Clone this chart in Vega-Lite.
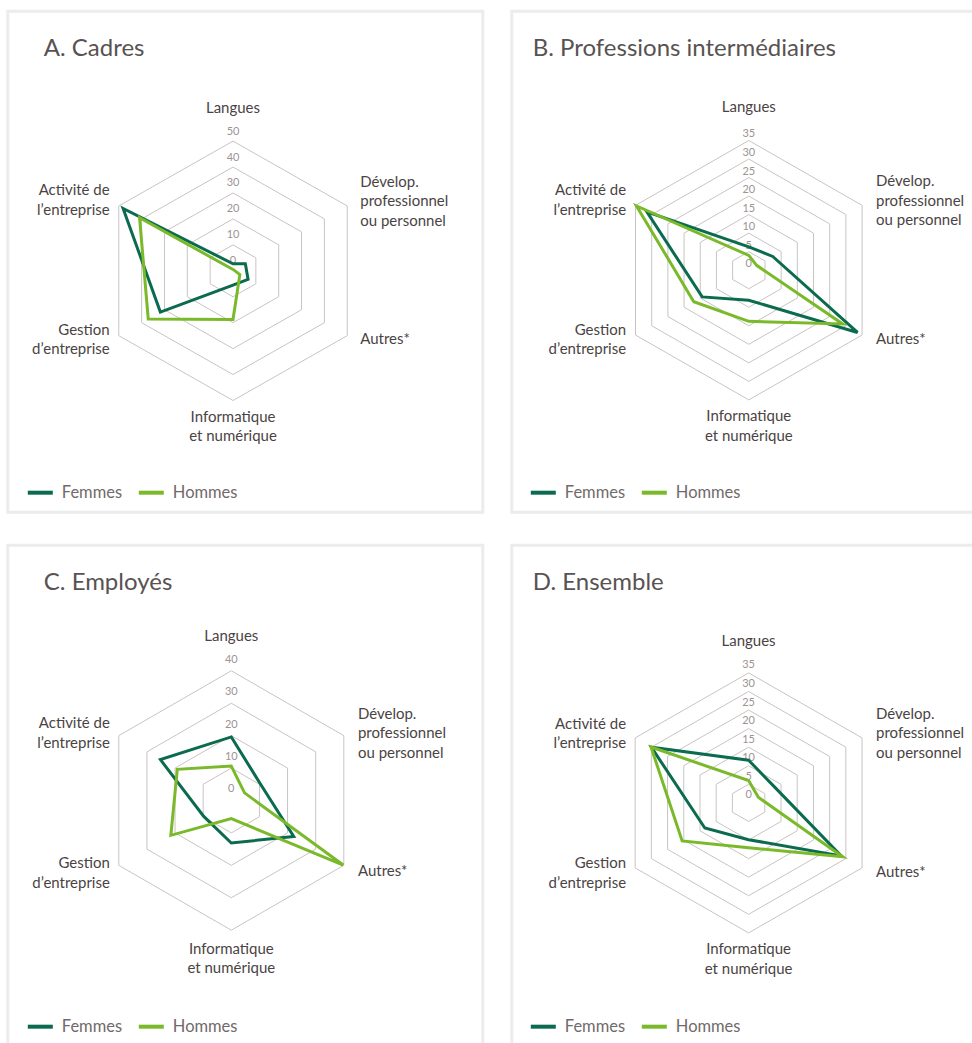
{
  "$schema": "https://vega.github.io/schema/vega-lite/v6.json",
  "padding": {"left": 5.8, "top": 9.2, "right": 0, "bottom": 0},
  "config": {
    "font": "Lato",
    "view": {"stroke": "#ececec", "strokeWidth": 3},
    "title": {"font": "Lato", "fontSize": 24, "fontWeight": "normal", "color": "#595252", "anchor": "start", "offset": -50, "baseline": "alphabetic"},
    "legend": {"labelFont": "Lato", "labelFontSize": 16.5, "labelColor": "#716a6a", "symbolType": "stroke", "symbolSize": 625, "symbolStrokeWidth": 4, "labelOffset": 7, "columnPadding": 8, "padding": 0}
  },
  "datasets": {
    "formation": [
      {"panel": "A", "sexe": "Femmes", "axe": "Langues", "valeur": 2.7},
      {"panel": "A", "sexe": "Femmes", "axe": "Dévelop. professionnel ou personnel", "valeur": 5.4},
      {"panel": "A", "sexe": "Femmes", "axe": "Autres*", "valeur": 6.6},
      {"panel": "A", "sexe": "Femmes", "axe": "Informatique et numérique", "valeur": 5.5},
      {"panel": "A", "sexe": "Femmes", "axe": "Gestion d’entreprise", "valeur": 31.8},
      {"panel": "A", "sexe": "Femmes", "axe": "Activité de l’entreprise", "valeur": 48.1},
      {"panel": "A", "sexe": "Hommes", "axe": "Langues", "valeur": 0.5},
      {"panel": "A", "sexe": "Hommes", "axe": "Dévelop. professionnel ou personnel", "valeur": 0.5},
      {"panel": "A", "sexe": "Hommes", "axe": "Autres*", "valeur": 3.0},
      {"panel": "A", "sexe": "Hommes", "axe": "Informatique et numérique", "valeur": 18.8},
      {"panel": "A", "sexe": "Hommes", "axe": "Gestion d’entreprise", "valeur": 37.1},
      {"panel": "A", "sexe": "Hommes", "axe": "Activité de l’entreprise", "valeur": 40.9},
      {"panel": "B", "sexe": "Femmes", "axe": "Langues", "valeur": 6.3},
      {"panel": "B", "sexe": "Femmes", "axe": "Dévelop. professionnel ou personnel", "valeur": 7.4},
      {"panel": "B", "sexe": "Femmes", "axe": "Autres*", "valeur": 33.6},
      {"panel": "B", "sexe": "Femmes", "axe": "Informatique et numérique", "valeur": 8.1},
      {"panel": "B", "sexe": "Femmes", "axe": "Gestion d’entreprise", "valeur": 14.4},
      {"panel": "B", "sexe": "Femmes", "axe": "Activité de l’entreprise", "valeur": 31.5},
      {"panel": "B", "sexe": "Hommes", "axe": "Langues", "valeur": 4.0},
      {"panel": "B", "sexe": "Hommes", "axe": "Dévelop. professionnel ou personnel", "valeur": 2.5},
      {"panel": "B", "sexe": "Hommes", "axe": "Autres*", "valeur": 29.0},
      {"panel": "B", "sexe": "Hommes", "axe": "Informatique et numérique", "valeur": 13.8},
      {"panel": "B", "sexe": "Hommes", "axe": "Gestion d’entreprise", "valeur": 17.0},
      {"panel": "B", "sexe": "Hommes", "axe": "Activité de l’entreprise", "valeur": 34.7},
      {"panel": "C", "sexe": "Femmes", "axe": "Langues", "valeur": 19.6},
      {"panel": "C", "sexe": "Femmes", "axe": "Dévelop. professionnel ou personnel", "valeur": 10.3},
      {"panel": "C", "sexe": "Femmes", "axe": "Autres*", "valeur": 22.2},
      {"panel": "C", "sexe": "Femmes", "axe": "Informatique et numérique", "valeur": 13.1},
      {"panel": "C", "sexe": "Femmes", "axe": "Gestion d’entreprise", "valeur": 9.8},
      {"panel": "C", "sexe": "Femmes", "axe": "Activité de l’entreprise", "valeur": 25.2},
      {"panel": "C", "sexe": "Hommes", "axe": "Langues", "valeur": 10.6},
      {"panel": "C", "sexe": "Hommes", "axe": "Dévelop. professionnel ou personnel", "valeur": 4.7},
      {"panel": "C", "sexe": "Hommes", "axe": "Autres*", "valeur": 39.8},
      {"panel": "C", "sexe": "Hommes", "axe": "Informatique et numérique", "valeur": 5.6},
      {"panel": "C", "sexe": "Hommes", "axe": "Gestion d’entreprise", "valeur": 21.5},
      {"panel": "C", "sexe": "Hommes", "axe": "Activité de l’entreprise", "valeur": 19.2},
      {"panel": "D", "sexe": "Femmes", "axe": "Langues", "valeur": 11.5},
      {"panel": "D", "sexe": "Femmes", "axe": "Dévelop. professionnel ou personnel", "valeur": 8.2},
      {"panel": "D", "sexe": "Femmes", "axe": "Autres*", "valeur": 28.6},
      {"panel": "D", "sexe": "Femmes", "axe": "Informatique et numérique", "valeur": 9.9},
      {"panel": "D", "sexe": "Femmes", "axe": "Gestion d’entreprise", "valeur": 13.5},
      {"panel": "D", "sexe": "Femmes", "axe": "Activité de l’entreprise", "valeur": 30.0},
      {"panel": "D", "sexe": "Hommes", "axe": "Langues", "valeur": 6.0},
      {"panel": "D", "sexe": "Hommes", "axe": "Dévelop. professionnel ou personnel", "valeur": 3.0},
      {"panel": "D", "sexe": "Hommes", "axe": "Autres*", "valeur": 29.0},
      {"panel": "D", "sexe": "Hommes", "axe": "Informatique et numérique", "valeur": 12.1},
      {"panel": "D", "sexe": "Hommes", "axe": "Gestion d’entreprise", "valeur": 20.5},
      {"panel": "D", "sexe": "Hommes", "axe": "Activité de l’entreprise", "valeur": 30.1}
    ],
    "axes": [
      {"axe": "Langues", "libelle": ["Langues"]},
      {"axe": "Dévelop. professionnel ou personnel", "libelle": ["Dévelop.", "professionnel", "ou personnel"]},
      {"axe": "Autres*", "libelle": ["Autres*"]},
      {"axe": "Informatique et numérique", "libelle": ["Informatique", "et numérique"]},
      {"axe": "Gestion d’entreprise", "libelle": ["Gestion", "d’entreprise"]},
      {"axe": "Activité de l’entreprise", "libelle": ["Activité de", "l’entreprise"]}
    ],
    "echelles": [
      {"panel": "A", "max": 50, "niveaux": [10, 20, 30, 40, 50], "graduations": [0, 10, 20, 30, 40, 50]},
      {"panel": "B", "max": 35, "niveaux": [5, 10, 15, 20, 25, 30, 35], "graduations": [0, 5, 10, 15, 20, 25, 30, 35]},
      {"panel": "C", "max": 40, "niveaux": [10, 20, 30, 40], "graduations": [0, 10, 20, 30, 40]},
      {"panel": "D", "max": 35, "niveaux": [5, 10, 15, 20, 25, 30, 35], "graduations": [0, 5, 10, 15, 20, 25, 30, 35]}
    ]
  },
  "columns": 2,
  "spacing": {"row": 29, "column": 25},
  "resolve": {"scale": {"color": "independent"}, "legend": {"color": "independent"}},
  "concat": [
    {
      "width": 475, "height": 501,
      "title": {"text": "A. Cadres", "dx": 36},
      "encoding": {
        "x": {"field": "x", "type": "quantitative", "scale": {"domain": [-1.7074, 1.8939], "nice": false, "zero": false}, "axis": null},
        "y": {"field": "y", "type": "quantitative", "scale": {"domain": [-1.8612, 2.0015], "nice": false, "zero": false}, "axis": null}
      },
      "layer": [
        {
          "data": {"name": "formation"},
          "transform": [
            {"filter": "datum.panel === 'A' && datum.sexe === 'Femmes'"},
            {"lookup": "panel", "from": {"data": {"name": "echelles"}, "key": "panel", "fields": ["max", "niveaux"]}},
            {"flatten": ["niveaux"], "as": ["niveau"]},
            {"calculate": "indexof(['Langues','Dévelop. professionnel ou personnel','Autres*','Informatique et numérique','Gestion d’entreprise','Activité de l’entreprise'], datum.axe) * PI / 3", "as": "angle"},
            {"calculate": "datum.niveau / datum.max * sin(datum.angle)", "as": "x"},
            {"calculate": "datum.niveau / datum.max * cos(datum.angle)", "as": "y"}
          ],
          "mark": {"type": "line", "interpolate": "linear-closed", "stroke": "#cac3c3", "strokeWidth": 1},
          "encoding": {"detail": {"field": "niveau", "type": "nominal"}, "order": {"field": "angle", "type": "quantitative"}}
        },
        {
          "data": {"name": "echelles"},
          "transform": [
            {"filter": "datum.panel === 'A'"},
            {"flatten": ["graduations"], "as": ["graduation"]},
            {"calculate": "0", "as": "x"},
            {"calculate": "datum.graduation / datum.max", "as": "y"}
          ],
          "mark": {"type": "text", "fontSize": 11, "fill": "#9d9393", "baseline": "middle", "dy": -9.5},
          "encoding": {"text": {"field": "graduation", "type": "quantitative"}}
        },
        {
          "data": {"name": "axes"},
          "transform": [
            {"calculate": "indexof(['Langues','Dévelop. professionnel ou personnel','Autres*','Informatique et numérique','Gestion d’entreprise','Activité de l’entreprise'], datum.axe)", "as": "rang"},
            {"filter": "datum.rang === 0 || datum.rang === 3"},
            {"calculate": "0", "as": "x"},
            {"calculate": "(datum.rang === 0 ? 1.255 : -1.2) + (length(datum.libelle) - 1) * 0.075", "as": "y"}
          ],
          "mark": {"type": "text", "align": "center", "baseline": "middle", "fontSize": 15, "lineHeight": 19.5, "fill": "#4a4343"},
          "encoding": {"text": {"field": "libelle", "type": "nominal"}}
        },
        {
          "data": {"name": "axes"},
          "transform": [
            {"calculate": "indexof(['Langues','Dévelop. professionnel ou personnel','Autres*','Informatique et numérique','Gestion d’entreprise','Activité de l’entreprise'], datum.axe)", "as": "rang"},
            {"filter": "datum.rang === 1 || datum.rang === 2"},
            {"calculate": "0.965", "as": "x"},
            {"calculate": "(datum.rang === 1 ? 0.535 : -0.525) + (length(datum.libelle) - 1) * 0.075", "as": "y"}
          ],
          "mark": {"type": "text", "align": "left", "baseline": "middle", "fontSize": 15, "lineHeight": 19.5, "fill": "#4a4343"},
          "encoding": {"text": {"field": "libelle", "type": "nominal"}}
        },
        {
          "data": {"name": "axes"},
          "transform": [
            {"calculate": "indexof(['Langues','Dévelop. professionnel ou personnel','Autres*','Informatique et numérique','Gestion d’entreprise','Activité de l’entreprise'], datum.axe)", "as": "rang"},
            {"filter": "datum.rang === 4 || datum.rang === 5"},
            {"calculate": "-0.935", "as": "x"},
            {"calculate": "(datum.rang === 5 ? 0.545 : -0.53) + (length(datum.libelle) - 1) * 0.075", "as": "y"}
          ],
          "mark": {"type": "text", "align": "right", "baseline": "middle", "fontSize": 15, "lineHeight": 19.5, "fill": "#4a4343"},
          "encoding": {"text": {"field": "libelle", "type": "nominal"}}
        },
        {
          "data": {"name": "formation"},
          "transform": [
            {"filter": "datum.panel === 'A'"},
            {"lookup": "panel", "from": {"data": {"name": "echelles"}, "key": "panel", "fields": ["max"]}},
            {"calculate": "indexof(['Langues','Dévelop. professionnel ou personnel','Autres*','Informatique et numérique','Gestion d’entreprise','Activité de l’entreprise'], datum.axe) * PI / 3", "as": "angle"},
            {"calculate": "datum.valeur / datum.max * sin(datum.angle)", "as": "x"},
            {"calculate": "datum.valeur / datum.max * cos(datum.angle)", "as": "y"}
          ],
          "mark": {"type": "line", "interpolate": "linear-closed", "strokeWidth": 3, "strokeJoin": "miter"},
          "encoding": {
            "color": {"field": "sexe", "type": "nominal", "scale": {"domain": ["Femmes", "Hommes"], "range": ["#0b6b4f", "#7ab929"]}, "legend": {"title": null, "orient": "none", "direction": "horizontal", "legendX": 18, "legendY": 467}},
            "order": {"field": "angle", "type": "quantitative"}
          }
        }
      ]
    },
    {
      "width": 475, "height": 501,
      "title": {"text": "B. Professions intermédiaires", "dx": 21},
      "encoding": {
        "x": {"field": "x", "type": "quantitative", "scale": {"domain": [-1.8119, 1.8196], "nice": false, "zero": false}, "axis": null},
        "y": {"field": "y", "type": "quantitative", "scale": {"domain": [-1.8659, 1.9969], "nice": false, "zero": false}, "axis": null}
      },
      "layer": [
        {
          "data": {"name": "formation"},
          "transform": [
            {"filter": "datum.panel === 'B' && datum.sexe === 'Femmes'"},
            {"lookup": "panel", "from": {"data": {"name": "echelles"}, "key": "panel", "fields": ["max", "niveaux"]}},
            {"flatten": ["niveaux"], "as": ["niveau"]},
            {"calculate": "indexof(['Langues','Dévelop. professionnel ou personnel','Autres*','Informatique et numérique','Gestion d’entreprise','Activité de l’entreprise'], datum.axe) * PI / 3", "as": "angle"},
            {"calculate": "datum.niveau / datum.max * sin(datum.angle)", "as": "x"},
            {"calculate": "datum.niveau / datum.max * cos(datum.angle)", "as": "y"}
          ],
          "mark": {"type": "line", "interpolate": "linear-closed", "stroke": "#cac3c3", "strokeWidth": 1},
          "encoding": {"detail": {"field": "niveau", "type": "nominal"}, "order": {"field": "angle", "type": "quantitative"}}
        },
        {
          "data": {"name": "echelles"},
          "transform": [
            {"filter": "datum.panel === 'B'"},
            {"flatten": ["graduations"], "as": ["graduation"]},
            {"calculate": "0", "as": "x"},
            {"calculate": "datum.graduation / datum.max", "as": "y"}
          ],
          "mark": {"type": "text", "fontSize": 11, "fill": "#9d9393", "baseline": "middle", "dy": -6},
          "encoding": {"text": {"field": "graduation", "type": "quantitative"}}
        },
        {
          "data": {"name": "axes"},
          "transform": [
            {"calculate": "indexof(['Langues','Dévelop. professionnel ou personnel','Autres*','Informatique et numérique','Gestion d’entreprise','Activité de l’entreprise'], datum.axe)", "as": "rang"},
            {"filter": "datum.rang === 0 || datum.rang === 3"},
            {"calculate": "0", "as": "x"},
            {"calculate": "(datum.rang === 0 ? 1.255 : -1.2) + (length(datum.libelle) - 1) * 0.075", "as": "y"}
          ],
          "mark": {"type": "text", "align": "center", "baseline": "middle", "fontSize": 15, "lineHeight": 19.5, "fill": "#4a4343"},
          "encoding": {"text": {"field": "libelle", "type": "nominal"}}
        },
        {
          "data": {"name": "axes"},
          "transform": [
            {"calculate": "indexof(['Langues','Dévelop. professionnel ou personnel','Autres*','Informatique et numérique','Gestion d’entreprise','Activité de l’entreprise'], datum.axe)", "as": "rang"},
            {"filter": "datum.rang === 1 || datum.rang === 2"},
            {"calculate": "0.973", "as": "x"},
            {"calculate": "(datum.rang === 1 ? 0.535 : -0.534) + (length(datum.libelle) - 1) * 0.075", "as": "y"}
          ],
          "mark": {"type": "text", "align": "left", "baseline": "middle", "fontSize": 15, "lineHeight": 19.5, "fill": "#4a4343"},
          "encoding": {"text": {"field": "libelle", "type": "nominal"}}
        },
        {
          "data": {"name": "axes"},
          "transform": [
            {"calculate": "indexof(['Langues','Dévelop. professionnel ou personnel','Autres*','Informatique et numérique','Gestion d’entreprise','Activité de l’entreprise'], datum.axe)", "as": "rang"},
            {"filter": "datum.rang === 4 || datum.rang === 5"},
            {"calculate": "-0.938", "as": "x"},
            {"calculate": "(datum.rang === 5 ? 0.54 : -0.535) + (length(datum.libelle) - 1) * 0.075", "as": "y"}
          ],
          "mark": {"type": "text", "align": "right", "baseline": "middle", "fontSize": 15, "lineHeight": 19.5, "fill": "#4a4343"},
          "encoding": {"text": {"field": "libelle", "type": "nominal"}}
        },
        {
          "data": {"name": "formation"},
          "transform": [
            {"filter": "datum.panel === 'B'"},
            {"lookup": "panel", "from": {"data": {"name": "echelles"}, "key": "panel", "fields": ["max"]}},
            {"calculate": "indexof(['Langues','Dévelop. professionnel ou personnel','Autres*','Informatique et numérique','Gestion d’entreprise','Activité de l’entreprise'], datum.axe) * PI / 3", "as": "angle"},
            {"calculate": "datum.valeur / datum.max * sin(datum.angle)", "as": "x"},
            {"calculate": "datum.valeur / datum.max * cos(datum.angle)", "as": "y"}
          ],
          "mark": {"type": "line", "interpolate": "linear-closed", "strokeWidth": 3, "strokeJoin": "miter"},
          "encoding": {
            "color": {"field": "sexe", "type": "nominal", "scale": {"domain": ["Femmes", "Hommes"], "range": ["#0b6b4f", "#7ab929"]}, "legend": {"title": null, "orient": "none", "direction": "horizontal", "legendX": 17, "legendY": 467}},
            "order": {"field": "angle", "type": "quantitative"}
          }
        }
      ]
    },
    {
      "width": 475, "height": 501,
      "title": {"text": "C. Employés", "dx": 36},
      "encoding": {
        "x": {"field": "x", "type": "quantitative", "scale": {"domain": [-1.7206, 1.9361], "nice": false, "zero": false}, "axis": null},
        "y": {"field": "y", "type": "quantitative", "scale": {"domain": [-1.8944, 1.9684], "nice": false, "zero": false}, "axis": null}
      },
      "layer": [
        {
          "data": {"name": "formation"},
          "transform": [
            {"filter": "datum.panel === 'C' && datum.sexe === 'Femmes'"},
            {"lookup": "panel", "from": {"data": {"name": "echelles"}, "key": "panel", "fields": ["max", "niveaux"]}},
            {"flatten": ["niveaux"], "as": ["niveau"]},
            {"calculate": "indexof(['Langues','Dévelop. professionnel ou personnel','Autres*','Informatique et numérique','Gestion d’entreprise','Activité de l’entreprise'], datum.axe) * PI / 3", "as": "angle"},
            {"calculate": "datum.niveau / datum.max * sin(datum.angle)", "as": "x"},
            {"calculate": "datum.niveau / datum.max * cos(datum.angle)", "as": "y"}
          ],
          "mark": {"type": "line", "interpolate": "linear-closed", "stroke": "#cac3c3", "strokeWidth": 1},
          "encoding": {"detail": {"field": "niveau", "type": "nominal"}, "order": {"field": "angle", "type": "quantitative"}}
        },
        {
          "data": {"name": "echelles"},
          "transform": [
            {"filter": "datum.panel === 'C'"},
            {"flatten": ["graduations"], "as": ["graduation"]},
            {"calculate": "0", "as": "x"},
            {"calculate": "datum.graduation / datum.max", "as": "y"}
          ],
          "mark": {"type": "text", "fontSize": 11, "fill": "#9d9393", "baseline": "middle", "dy": -11},
          "encoding": {"text": {"field": "graduation", "type": "quantitative"}}
        },
        {
          "data": {"name": "axes"},
          "transform": [
            {"calculate": "indexof(['Langues','Dévelop. professionnel ou personnel','Autres*','Informatique et numérique','Gestion d’entreprise','Activité de l’entreprise'], datum.axe)", "as": "rang"},
            {"filter": "datum.rang === 0 || datum.rang === 3"},
            {"calculate": "0", "as": "x"},
            {"calculate": "(datum.rang === 0 ? 1.27 : -1.22) + (length(datum.libelle) - 1) * 0.075", "as": "y"}
          ],
          "mark": {"type": "text", "align": "center", "baseline": "middle", "fontSize": 15, "lineHeight": 19.5, "fill": "#4a4343"},
          "encoding": {"text": {"field": "libelle", "type": "nominal"}}
        },
        {
          "data": {"name": "axes"},
          "transform": [
            {"calculate": "indexof(['Langues','Dévelop. professionnel ou personnel','Autres*','Informatique et numérique','Gestion d’entreprise','Activité de l’entreprise'], datum.axe)", "as": "rang"},
            {"filter": "datum.rang === 1 || datum.rang === 2"},
            {"calculate": "0.975", "as": "x"},
            {"calculate": "(datum.rang === 1 ? 0.52 : -0.545) + (length(datum.libelle) - 1) * 0.075", "as": "y"}
          ],
          "mark": {"type": "text", "align": "left", "baseline": "middle", "fontSize": 15, "lineHeight": 19.5, "fill": "#4a4343"},
          "encoding": {"text": {"field": "libelle", "type": "nominal"}}
        },
        {
          "data": {"name": "axes"},
          "transform": [
            {"calculate": "indexof(['Langues','Dévelop. professionnel ou personnel','Autres*','Informatique et numérique','Gestion d’entreprise','Activité de l’entreprise'], datum.axe)", "as": "rang"},
            {"filter": "datum.rang === 4 || datum.rang === 5"},
            {"calculate": "-0.935", "as": "x"},
            {"calculate": "(datum.rang === 5 ? 0.52 : -0.56) + (length(datum.libelle) - 1) * 0.075", "as": "y"}
          ],
          "mark": {"type": "text", "align": "right", "baseline": "middle", "fontSize": 15, "lineHeight": 19.5, "fill": "#4a4343"},
          "encoding": {"text": {"field": "libelle", "type": "nominal"}}
        },
        {
          "data": {"name": "formation"},
          "transform": [
            {"filter": "datum.panel === 'C'"},
            {"lookup": "panel", "from": {"data": {"name": "echelles"}, "key": "panel", "fields": ["max"]}},
            {"calculate": "indexof(['Langues','Dévelop. professionnel ou personnel','Autres*','Informatique et numérique','Gestion d’entreprise','Activité de l’entreprise'], datum.axe) * PI / 3", "as": "angle"},
            {"calculate": "datum.valeur / datum.max * sin(datum.angle)", "as": "x"},
            {"calculate": "datum.valeur / datum.max * cos(datum.angle)", "as": "y"}
          ],
          "mark": {"type": "line", "interpolate": "linear-closed", "strokeWidth": 3, "strokeJoin": "miter"},
          "encoding": {
            "color": {"field": "sexe", "type": "nominal", "scale": {"domain": ["Femmes", "Hommes"], "range": ["#0b6b4f", "#7ab929"]}, "legend": {"title": null, "orient": "none", "direction": "horizontal", "legendX": 18, "legendY": 467}},
            "order": {"field": "angle", "type": "quantitative"}
          }
        }
      ]
    },
    {
      "width": 475, "height": 501,
      "title": {"text": "D. Ensemble", "dx": 21},
      "encoding": {
        "x": {"field": "x", "type": "quantitative", "scale": {"domain": [-1.8076, 1.8183], "nice": false, "zero": false}, "axis": null},
        "y": {"field": "y", "type": "quantitative", "scale": {"domain": [-1.8715, 1.9823], "nice": false, "zero": false}, "axis": null}
      },
      "layer": [
        {
          "data": {"name": "formation"},
          "transform": [
            {"filter": "datum.panel === 'D' && datum.sexe === 'Femmes'"},
            {"lookup": "panel", "from": {"data": {"name": "echelles"}, "key": "panel", "fields": ["max", "niveaux"]}},
            {"flatten": ["niveaux"], "as": ["niveau"]},
            {"calculate": "indexof(['Langues','Dévelop. professionnel ou personnel','Autres*','Informatique et numérique','Gestion d’entreprise','Activité de l’entreprise'], datum.axe) * PI / 3", "as": "angle"},
            {"calculate": "datum.niveau / datum.max * sin(datum.angle)", "as": "x"},
            {"calculate": "datum.niveau / datum.max * cos(datum.angle)", "as": "y"}
          ],
          "mark": {"type": "line", "interpolate": "linear-closed", "stroke": "#cac3c3", "strokeWidth": 1},
          "encoding": {"detail": {"field": "niveau", "type": "nominal"}, "order": {"field": "angle", "type": "quantitative"}}
        },
        {
          "data": {"name": "echelles"},
          "transform": [
            {"filter": "datum.panel === 'D'"},
            {"flatten": ["graduations"], "as": ["graduation"]},
            {"calculate": "0", "as": "x"},
            {"calculate": "datum.graduation / datum.max", "as": "y"}
          ],
          "mark": {"type": "text", "fontSize": 11, "fill": "#9d9393", "baseline": "middle", "dy": -7.5},
          "encoding": {"text": {"field": "graduation", "type": "quantitative"}}
        },
        {
          "data": {"name": "axes"},
          "transform": [
            {"calculate": "indexof(['Langues','Dévelop. professionnel ou personnel','Autres*','Informatique et numérique','Gestion d’entreprise','Activité de l’entreprise'], datum.axe)", "as": "rang"},
            {"filter": "datum.rang === 0 || datum.rang === 3"},
            {"calculate": "0", "as": "x"},
            {"calculate": "(datum.rang === 0 ? 1.245 : -1.2) + (length(datum.libelle) - 1) * 0.075", "as": "y"}
          ],
          "mark": {"type": "text", "align": "center", "baseline": "middle", "fontSize": 15, "lineHeight": 19.5, "fill": "#4a4343"},
          "encoding": {"text": {"field": "libelle", "type": "nominal"}}
        },
        {
          "data": {"name": "axes"},
          "transform": [
            {"calculate": "indexof(['Langues','Dévelop. professionnel ou personnel','Autres*','Informatique et numérique','Gestion d’entreprise','Activité de l’entreprise'], datum.axe)", "as": "rang"},
            {"filter": "datum.rang === 1 || datum.rang === 2"},
            {"calculate": "0.973", "as": "x"},
            {"calculate": "(datum.rang === 1 ? 0.534 : -0.535) + (length(datum.libelle) - 1) * 0.075", "as": "y"}
          ],
          "mark": {"type": "text", "align": "left", "baseline": "middle", "fontSize": 15, "lineHeight": 19.5, "fill": "#4a4343"},
          "encoding": {"text": {"field": "libelle", "type": "nominal"}}
        },
        {
          "data": {"name": "axes"},
          "transform": [
            {"calculate": "indexof(['Langues','Dévelop. professionnel ou personnel','Autres*','Informatique et numérique','Gestion d’entreprise','Activité de l’entreprise'], datum.axe)", "as": "rang"},
            {"filter": "datum.rang === 4 || datum.rang === 5"},
            {"calculate": "-0.935", "as": "x"},
            {"calculate": "(datum.rang === 5 ? 0.535 : -0.54) + (length(datum.libelle) - 1) * 0.075", "as": "y"}
          ],
          "mark": {"type": "text", "align": "right", "baseline": "middle", "fontSize": 15, "lineHeight": 19.5, "fill": "#4a4343"},
          "encoding": {"text": {"field": "libelle", "type": "nominal"}}
        },
        {
          "data": {"name": "formation"},
          "transform": [
            {"filter": "datum.panel === 'D'"},
            {"lookup": "panel", "from": {"data": {"name": "echelles"}, "key": "panel", "fields": ["max"]}},
            {"calculate": "indexof(['Langues','Dévelop. professionnel ou personnel','Autres*','Informatique et numérique','Gestion d’entreprise','Activité de l’entreprise'], datum.axe) * PI / 3", "as": "angle"},
            {"calculate": "datum.valeur / datum.max * sin(datum.angle)", "as": "x"},
            {"calculate": "datum.valeur / datum.max * cos(datum.angle)", "as": "y"}
          ],
          "mark": {"type": "line", "interpolate": "linear-closed", "strokeWidth": 3, "strokeJoin": "miter"},
          "encoding": {
            "color": {"field": "sexe", "type": "nominal", "scale": {"domain": ["Femmes", "Hommes"], "range": ["#0b6b4f", "#7ab929"]}, "legend": {"title": null, "orient": "none", "direction": "horizontal", "legendX": 17, "legendY": 467}},
            "order": {"field": "angle", "type": "quantitative"}
          }
        }
      ]
    }
  ]
}
